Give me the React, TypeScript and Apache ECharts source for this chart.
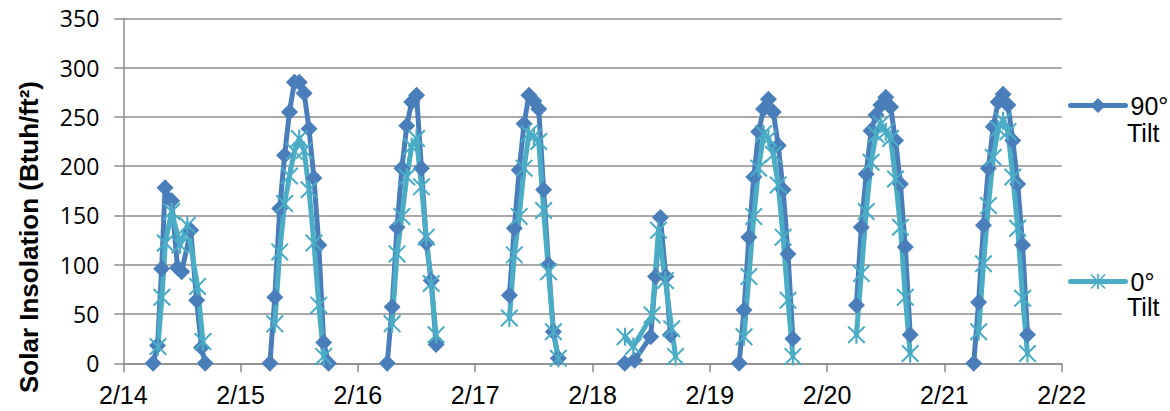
import { useEffect, useRef } from 'react';
import * as echarts from 'echarts';

// Date labels for the x axis (one tick per midnight)
const dayLabels = ['2/14', '2/15', '2/16', '2/17', '2/18', '2/19', '2/20', '2/21', '2/22'];

// Hour of day of each reading, one list per day (2/14 .. 2/21)
const tilt90Hours = [
  [6.1, 7.0, 7.85, 8.55, 9.9, 11.1, 11.95, 13.8, 15.0, 16.0, 16.75],
  [6, 7, 8, 9, 10, 11, 12, 13, 14, 15, 16, 17, 18],
  [6, 7, 8, 9, 10, 11, 12, 13, 14, 15, 16],
  [7, 8, 9, 10, 11, 12, 13, 14, 15, 16, 17],
  [6.6, 8.6, 11.9, 12.9, 13.9, 15.0, 15.95],
  [6, 7, 8, 9, 10, 11, 12, 13, 14, 15, 16, 17],
  [6, 7, 8, 9, 10, 11, 12, 13, 14, 15, 16, 17],
  [6, 7, 8, 9, 10, 11, 12, 13, 14, 15, 16, 17],
];
// Solar insolation on the vertical surface, Btuh/ft²
const tilt90Values = [
  [0, 18, 96, 178, 165, 97, 93, 135, 64, 16, 0],
  [0, 67, 157, 211, 255, 285, 285, 274, 238, 188, 120, 21, 0],
  [0, 57, 138, 198, 241, 265, 272, 198, 122, 84, 19],
  [69, 137, 196, 243, 272, 266, 258, 176, 100, 32, 5],
  [0, 3, 27, 88, 148, 88, 29],
  [0, 54, 128, 189, 235, 258, 268, 255, 221, 176, 111, 25],
  [59, 138, 192, 236, 252, 262, 270, 260, 226, 182, 118, 29],
  [0, 62, 140, 198, 240, 265, 273, 262, 226, 182, 120, 29],
];

const tilt0Hours = [
  [7.1, 7.9, 8.6, 9.9, 11.6, 13.1, 15.2, 16.3],
  [7, 8, 9, 10, 11, 12, 13, 14, 15, 16, 17],
  [7, 8, 9, 10, 11, 12, 13, 14, 15, 16],
  [7, 8, 9, 10, 11, 12, 13, 14, 15, 16, 17],
  [6.65, 8.35, 12.2, 13.5, 14.9, 16.2, 17.0],
  [7, 8, 9, 10, 11, 12, 13, 14, 15, 16, 17],
  [6, 7, 8, 9, 10, 11, 12, 13, 14, 15, 16, 17],
  [7, 8, 9, 10, 11, 12, 13, 14, 15, 16, 17],
];
// Solar insolation on the horizontal surface, Btuh/ft²
const tilt0Values = [
  [17, 67, 122, 154, 120, 140, 78, 22],
  [40, 113, 162, 190, 215, 228, 216, 176, 122, 59, 7],
  [40, 111, 149, 189, 220, 228, 179, 128, 81, 29],
  [46, 110, 149, 198, 233, 230, 225, 155, 93, 32, 5],
  [27, 17, 49, 135, 84, 35, 7],
  [27, 88, 149, 198, 233, 228, 212, 181, 128, 64, 7],
  [29, 91, 154, 204, 232, 243, 235, 228, 187, 138, 67, 10],
  [32, 101, 160, 209, 238, 246, 235, 189, 137, 66, 10],
];

const DARK = '#4a7ebb';
const LIGHT = '#4bacc6';
const GRID = '#8c8c8c';

// Asterisk marker: vertical bar plus two diagonals, all wound the same way
const ASTERISK =
  'path://M4.4 0L5.6 0L5.6 10L4.4 10Z M0 0.8L0.8 0L10 9.2L9.2 10Z M9.2 0L10 0.8L0.8 10L0 9.2Z';

// Turn per-day readings into [hours since 2/14 00:00, value] pairs,
// with an empty point at each midnight so days are not joined.
function buildSeries(hours: number[][], values: number[][]) {
  const out: (number | string)[][] = [];
  hours.forEach((hs, d) => {
    if (d > 0) out.push([d * 24, '-']);
    hs.forEach((h, i) => out.push([d * 24 + h, values[d][i]]));
  });
  return out;
}

export default function App() {
  const ref = useRef<HTMLDivElement>(null);

  useEffect(() => {
    document.body.style.margin = '0';
    if (!ref.current) return;
    const chart = echarts.init(ref.current, undefined, { renderer: 'svg' });

    const legendText = {
      fontFamily: '"Liberation Sans", Arial, sans-serif',
      fontSize: 25,
      color: '#000',
      lineHeight: 25,
    };
    const legendBase = {
      left: 1068,
      padding: 0,
      itemWidth: 55,
      itemHeight: 19,
      itemGap: 0,
      textStyle: legendText,
      selectedMode: false,
      lineStyle: { width: 5, cap: 'round' },
    };

    chart.setOption({
      animation: false,
      backgroundColor: '#fff',
      grid: { left: 123.3, top: 18.3, right: 108.3, bottom: 47.7, containLabel: false },
      xAxis: {
        type: 'value',
        min: 0,
        max: 192,
        interval: 24,
        axisLine: { show: true, onZero: false, lineStyle: { color: GRID, width: 1.5 } },
        axisTick: { show: true, inside: false, length: 9, lineStyle: { color: GRID, width: 1.5 } },
        splitLine: { show: false },
        axisLabel: {
          margin: 19,
          formatter: (v: number) => dayLabels[Math.round(v / 24)] ?? '',
          fontFamily: '"Liberation Sans", Arial, sans-serif',
          fontSize: 25,
          color: '#000',
        },
      },
      yAxis: {
        type: 'value',
        min: 0,
        max: 350,
        interval: 50,
        axisLine: { show: true, lineStyle: { color: GRID, width: 1.5 } },
        axisTick: { show: true, inside: false, length: 9, lineStyle: { color: GRID, width: 1.5 } },
        splitLine: { show: true, lineStyle: { color: GRID, width: 1.5 } },
        axisLabel: {
          margin: 24,
          fontFamily: '"Open Sans", sans-serif',
          fontSize: 23,
          color: '#000',
        },
      },
      legend: [
        { ...legendBase, data: ['90° Tilt'], top: 93, formatter: () => '90°' },
        { ...legendBase, data: ['0° Tilt'], top: 269, formatter: () => '0°' },
      ],
      graphic: [
        {
          type: 'text',
          x: 1127,
          y: 133,
          style: {
            text: 'Tilt',
            fill: '#000',
            font: '25px "Liberation Sans", Arial, sans-serif',
            textAlign: 'left',
            textVerticalAlign: 'middle',
          },
        },
        {
          type: 'text',
          x: 1127,
          y: 307,
          style: {
            text: 'Tilt',
            fill: '#000',
            font: '25px "Liberation Sans", Arial, sans-serif',
            textAlign: 'left',
            textVerticalAlign: 'middle',
          },
        },
        {
          type: 'text',
          x: 29,
          y: 237,
          rotation: Math.PI / 2,
          style: {
            text: 'Solar Insolation (Btuh/ft²)',
            fill: '#000',
            font: 'bold 26px "Liberation Sans", Arial, sans-serif',
            textAlign: 'center',
            textVerticalAlign: 'middle',
          },
        },
      ],
      series: [
        {
          name: '90° Tilt',
          type: 'line',
          data: buildSeries(tilt90Hours, tilt90Values),
          symbol: 'diamond',
          symbolSize: 17,
          showAllSymbol: true,
          connectNulls: false,
          lineStyle: { color: DARK, width: 5, cap: 'round', join: 'round' },
          itemStyle: { color: DARK },
        },
        {
          name: '0° Tilt',
          type: 'line',
          data: buildSeries(tilt0Hours, tilt0Values),
          symbol: ASTERISK,
          symbolSize: 18,
          showAllSymbol: true,
          connectNulls: false,
          lineStyle: { color: LIGHT, width: 5, cap: 'round', join: 'round' },
          itemStyle: { color: LIGHT },
        },
      ],
    });

    return () => chart.dispose();
  }, []);

  return <div ref={ref} style={{ width: 1170, height: 411 }} />;
}
